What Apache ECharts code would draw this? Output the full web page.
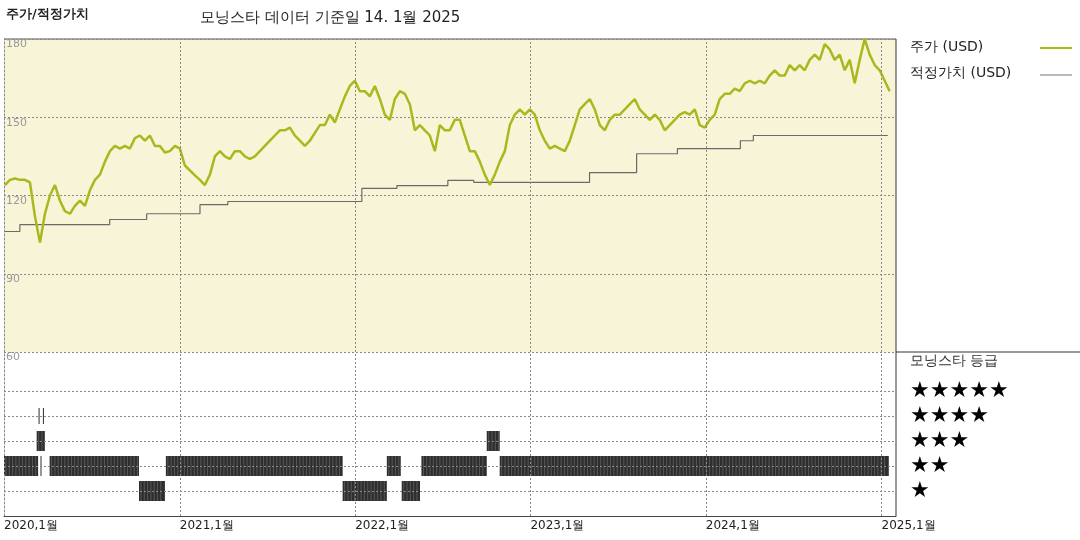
<!DOCTYPE html>
<html><head><meta charset="utf-8">
<script src="https://cdn.jsdelivr.net/npm/echarts@6/dist/echarts.min.js"></script>
<style>html,body{margin:0;padding:0;background:#fff}#c{width:1080px;height:540px}</style>
</head><body><div id="c"></div>
<script>
// Price sampled every ~10.4 days starting 2020-01-03
const priceStart = '2020-01-03';
const priceStepDays = 10.406;
const priceValues = [124,126,126.5,126,126,125,112,102,113,120,124,118,114,113,116,118,116,122,126,128,133,137,139,138,139,138,142,143,141,143,139,139,136.5,137,139,138,131.5,129.6,127.7,126,124,128,135,137,135,134,137,137,135,134,135,137,139,141,143,145,145,146,143,141,139,141,144,147,147,151,148,153,158,162,164,160,160,158,162,157,151,149,157,160,159,155,145,147,145,143,137,147,145,145,149,149,143,137,137,133,128,124,128,133,137,147,151,153,151,153,151,145,141,138,139,138,137,141,147,153,155,157,153,147,145,149,151,151,153,155,157,153,151,149,151,149,145,147,149,151,152,151,153,147,146,149,151,157,159,159,161,160,163,164,163,164,163,166,168,166,166,170,168,170,168,172,174,172,178,176,172,174,168,172,163,172,180,174,170,168,164,160];
const fairDates = ['2020-01-01','2020-02-03','2020-08-08','2020-10-24','2021-02-12','2021-04-11','2022-01-15','2022-03-29','2022-07-13','2022-09-05','2023-05-04','2023-08-10','2023-11-03','2024-03-13','2024-04-09','2025-01-14'];
const fairValues = [106.2,108.8,110.8,113,116.5,117.7,122.7,123.8,125.8,125,128.8,136,138,141,143,143];
// rating periods: [start, end, stars]
const ratingStarts = ['2020-01-01','2020-03-17','2020-04-05','2020-12-03','2022-03-08','2022-05-19','2022-10-29','2020-10-08','2021-12-06','2022-04-08','2020-03-09','2022-10-02','2020-03-13','2020-03-22'];
const ratingEnds   = ['2020-03-12','2020-03-19','2020-10-08','2021-12-06','2022-04-06','2022-10-02','2025-01-16','2020-12-01','2022-03-08','2022-05-16','2020-03-26','2022-10-29','2020-03-14','2020-03-23'];
const ratingStars  = [2,2,2,2,2,2,2,1,1,1,3,3,4,4];
const yearTicks = ['2020-01-01','2021-01-01','2022-01-01','2023-01-01','2024-01-01','2025-01-01'];
const yearLabels = ['2020,1월','2021,1월','2022,1월','2023,1월','2024,1월','2025,1월'];

const DAY = 86400000;
const ts = d => new Date(d).getTime();
const t0 = ts(priceStart);
const priceData = priceValues.map((v,i)=>[t0 + i*priceStepDays*DAY, v]);
const fairData = fairDates.map((d,i)=>[ts(d), fairValues[i]]);
const ratingData = ratingStars.map((s,i)=>[ts(ratingStarts[i]), ts(ratingEnds[i]), s]);
const xMin = ts('2020-01-01');
const xMax = ts('2025-01-31');
const font = "'DejaVu Sans', sans-serif";
const dash = {color:'#888', type:[2,2], width:1};

const chart = echarts.init(document.getElementById('c'));
chart.setOption({
  animation:false,
  textStyle:{fontFamily:font},
  graphic:[
    {type:'text', left:6, top:8, style:{text:'주가/적정가치', font:"bold 13px "+font, fill:'#222'}},
    {type:'text', left:200, top:11, style:{text:'모닝스타 데이터 기준일 14. 1월 2025', font:"15px "+font, fill:'#222'}},
    {type:'line', shape:{x1:4,y1:39,x2:896,y2:39}, style:{stroke:'#555', lineWidth:1}},
    {type:'line', shape:{x1:896,y1:39,x2:896,y2:516}, style:{stroke:'#333', lineWidth:1}},
    {type:'line', shape:{x1:896,y1:352,x2:1080,y2:352}, style:{stroke:'#333', lineWidth:1}},
    {type:'text', left:910, top:40, style:{text:'주가 (USD)', font:"14px "+font, fill:'#222'}},
    {type:'line', shape:{x1:1040,y1:48,x2:1072,y2:48}, style:{stroke:'#a9b81c', lineWidth:2}},
    {type:'text', left:910, top:66, style:{text:'적정가치 (USD)', font:"14px "+font, fill:'#222'}},
    {type:'line', shape:{x1:1040,y1:75,x2:1072,y2:75}, style:{stroke:'#777', lineWidth:1}},
    {type:'text', left:910, top:354, style:{text:'모닝스타 등급', font:"14px "+font, fill:'#333'}},
    {type:'text', left:910, top:380, style:{text:'★★★★★', font:"22px "+font, fill:'#000'}},
    {type:'text', left:910, top:405, style:{text:'★★★★', font:"22px "+font, fill:'#000'}},
    {type:'text', left:910, top:430, style:{text:'★★★', font:"22px "+font, fill:'#000'}},
    {type:'text', left:910, top:455, style:{text:'★★', font:"22px "+font, fill:'#000'}},
    {type:'text', left:910, top:480, style:{text:'★', font:"22px "+font, fill:'#000'}}
  ],
  grid:[
    {left:4, top:39, width:892, height:313, backgroundColor:'#f8f4d8', show:true, borderWidth:0},
    {left:4, top:352, width:892, height:164, show:false}
  ],
  xAxis:[
    {type:'time', gridIndex:0, min:xMin, max:xMax, axisLine:{show:false}, axisTick:{show:false}, axisLabel:{show:false}, splitLine:{show:false}},
    {type:'time', gridIndex:1, min:xMin, max:xMax, axisLine:{show:true, lineStyle:{color:'#444'}}, axisTick:{show:false}, axisLabel:{show:false}, splitLine:{show:false}}
  ],
  yAxis:[
    {type:'value', gridIndex:0, min:60, max:180, interval:30, axisLine:{show:true, lineStyle:dash}, axisTick:{show:false},
     axisLabel:{inside:true, verticalAlign:'top', color:'#999', fontSize:11, margin:2, showMinLabel:true},
     splitLine:{show:true, lineStyle:dash}},
    {type:'value', gridIndex:1, min:0, max:6.56, interval:1, axisLine:{show:true, lineStyle:dash}, axisTick:{show:false},
     axisLabel:{show:false}, splitLine:{show:false}}
  ],
  series:[
    {type:'line', xAxisIndex:0, yAxisIndex:0, data:[], markLine:{symbol:'none', silent:true, label:{show:false}, lineStyle:dash, data:yearTicks.map(d=>({xAxis:ts(d)}))}},
    {type:'line', xAxisIndex:0, yAxisIndex:0, data:fairData, step:'end', symbol:'none', lineStyle:{color:'#6a6a6a', width:1.2}},
    {type:'line', xAxisIndex:0, yAxisIndex:0, data:priceData, symbol:'none', lineStyle:{color:'#a9b81c', width:2.5}},
    {type:'line', xAxisIndex:1, yAxisIndex:1, data:[],
     markLine:{symbol:'none', silent:true, lineStyle:dash,
       data:yearTicks.map((d,i)=>({xAxis:ts(d), label:{show:true, position:'start', formatter:yearLabels[i], color:'#222', fontSize:12, align:'left', distance:[-2,4]}}))
         .concat([1,2,3,4,5].map(v=>({yAxis:v, label:{show:false}})))}},
    {type:'custom', xAxisIndex:1, yAxisIndex:1, data:ratingData,
     dimensions:['start','end','stars'], encode:{x:[0,1], y:2},
     renderItem:function(params, api){
       const s = api.value(2);
       const p0 = api.coord([api.value(0), s]);
       const p1 = api.coord([api.value(1), s]);
       const h = s===4 ? 16 : 20;
       const w = Math.max(1, p1[0]-p0[0]);
       const children = [{type:'rect', shape:{x:p0[0], y:p0[1]-h/2, width:w, height:h}, style:{fill:'#2e2e2e'}}];
       for (let x = p0[0]+2; x < p0[0]+w-1; x += 3.3) {
         children.push({type:'line', shape:{x1:x,y1:p0[1]-h/2,x2:x,y2:p0[1]+h/2}, style:{stroke:'#6a6a6a', lineWidth:0.7}});
       }
       return {type:'group', children:children};
     }}
  ]
});
</script></body></html>
